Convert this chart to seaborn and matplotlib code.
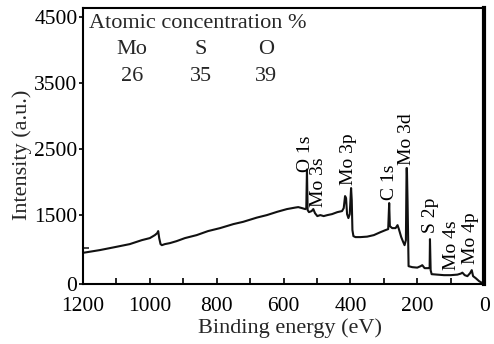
import numpy as np
import pandas as pd
import matplotlib
matplotlib.use("Agg")
import matplotlib.pyplot as plt
import seaborn as sns
from matplotlib.ticker import MultipleLocator

# ---- data ----
binding_energy = [1200, 1150, 1105, 1060, 1024, 1000, 985, 978, 975, 972, 968, 964, 955,
                  940, 920, 895, 860, 826, 790, 750, 721, 680, 650, 619, 590, 565, 556,
                  545, 535, 532, 530, 528, 524, 516, 511, 506, 499, 490, 480, 469, 455,
                  439, 425, 420, 416, 413, 410, 406, 402, 398, 396, 394, 391, 385, 370,
                  350, 330, 310, 295, 287, 284, 282, 275, 265, 259, 255, 248, 242, 238,
                  234, 232, 231, 229, 226, 215, 200, 190, 185, 178, 165, 163, 162, 160,
                  157, 140, 120, 100, 80, 70, 65, 58, 50, 42, 37, 33, 25, 15, 5, 0]
intensity = [929, 970, 1015, 1061, 1121, 1152, 1197, 1227, 1258, 1152, 1061, 1045, 1061,
             1076, 1106, 1152, 1197, 1258, 1303, 1364, 1398, 1462, 1500, 1550, 1591, 1614, 1621,
             1606, 1591, 1606, 2190, 1576, 1545, 1561, 1591, 1530, 1485, 1500, 1485, 1500, 1515,
             1545, 1561, 1606, 1788, 1758, 1515, 1455, 1515, 1909, 1727, 1273, 1182, 1167, 1167,
             1174, 1197, 1242, 1273, 1288, 1682, 1333, 1303, 1303, 1348, 1288, 1167, 1091, 1045,
             1121, 2212, 2212, 1700, 727, 712, 705, 727, 742, 697, 697, 700, 1136, 667,
             606, 599, 591, 591, 599, 614, 629, 591, 576, 621, 667, 576, 545, 500, 470, 455]

peak_labels = ["O 1s", "Mo 3s", "Mo 3p", "C 1s", "Mo 3d", "S 2p", "Mo 4s", "Mo 4p"]
peak_label_x = [534, 494, 405, 283, 232, 160, 97, 40]
peak_label_y = [2150, 1621, 1955, 1727, 2258, 1227, 667, 758]

elements = ["Mo", "S", "O"]
concentrations = [26, 35, 39]

ytick_pos = [455, 1500, 2500, 3500, 4500]
ytick_labels = ["0", "1500", "2500", "3500", "4500"]
xticks = [1200, 1000, 800, 600, 400, 200, 0]

df = pd.DataFrame({"Binding energy (eV)": binding_energy, "Intensity (a.u.)": intensity})

sns.set_style("ticks")
plt.rcParams["font.family"] = ["Liberation Serif", "DejaVu Serif"]

fig = plt.figure(figsize=(4.94, 3.44), dpi=100)
ax = fig.add_axes([0.168, 0.174, 0.812, 0.803])

sns.lineplot(data=df, x="Binding energy (eV)", y="Intensity (a.u.)", ax=ax,
             color="#111111", linewidth=1.5, sort=False, estimator=None)

ax.set_xlim(1200, 0)
ax.set_ylim(455, 4636)
ax.set_xticks(xticks)
ax.set_xticklabels([str(t) for t in xticks])
ax.xaxis.set_minor_locator(MultipleLocator(100))
ax.set_yticks(ytick_pos)
ax.set_yticklabels(ytick_labels)
ax.set_yticks([1000], minor=True)

ax.tick_params(axis="x", which="both", direction="in", length=4, width=1.2,
               labelsize=15.5, pad=9, colors="black")
ax.tick_params(axis="y", which="major", direction="out", length=3, width=1.2,
               labelsize=15.5, pad=1, colors="black")
ax.tick_params(axis="y", which="minor", direction="in", length=4, width=1.2)

for side in ["left", "bottom", "top"]:
    ax.spines[side].set_linewidth(1.5)
    ax.spines[side].set_color("black")
ax.spines["right"].set_linewidth(3)
ax.spines["right"].set_color("black")

ax.set_xlabel("Binding energy (eV)", fontsize=16)
ax.set_ylabel("Intensity (a.u.)", fontsize=16)
ax.xaxis.set_label_coords(0.516, -0.125)
ax.yaxis.set_label_coords(-0.127, 0.467)

for lab, x, y in zip(peak_labels, peak_label_x, peak_label_y):
    ax.text(x, y, lab, rotation=90, ha="center", va="bottom", fontsize=14, color="black")

ax.text(0.015, 0.928, "Atomic concentration %", transform=ax.transAxes,
        ha="left", va="baseline", fontsize=16)
col_x = [0.122, 0.294, 0.456]
for cx, el, c in zip(col_x, elements, concentrations):
    ax.text(cx, 0.833, el, transform=ax.transAxes, ha="center", va="baseline", fontsize=16)
    ax.text(cx, 0.736, str(c), transform=ax.transAxes, ha="center", va="baseline", fontsize=16)

fig.savefig("out.png", dpi=100)
